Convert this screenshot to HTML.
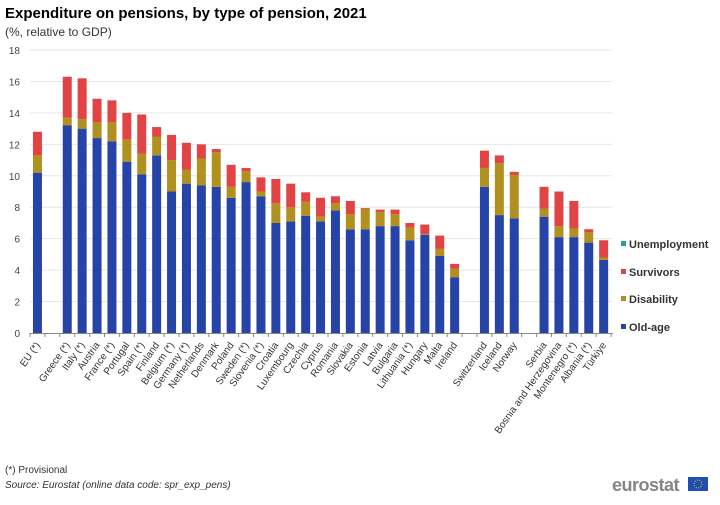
<!DOCTYPE html>
<html><head><meta charset="utf-8"><style>
body{margin:0;background:#fff;width:720px;height:500px;overflow:hidden;font-family:"Liberation Sans",Arial,sans-serif}
</style></head><body>
<svg id="c" width="720" height="500" xmlns="http://www.w3.org/2000/svg" font-family="Liberation Sans, Arial, sans-serif">
<text x="5" y="18" font-size="15" font-weight="bold" fill="#000">Expenditure on pensions, by type of pension, 2021</text>
<text x="5" y="36" font-size="12" fill="#333">(%, relative to GDP)</text>
<text x="5" y="473" font-size="10" fill="#333">(*) Provisional</text>
<text x="5" y="488" font-size="10" font-style="italic" fill="#333">Source: Eurostat (online data code: spr_exp_pens)</text>
<text x="612" y="491" font-size="18" font-weight="bold" fill="#858585" letter-spacing="-0.5">eurostat</text>
<rect x="688" y="477" width="20" height="14" fill="#1f4fb0"/>
<circle cx="698" cy="484" r="4" fill="none" stroke="#f0d020" stroke-width="1" stroke-dasharray="1 1.5"/>
<g id="legend" font-size="11" font-weight="bold" fill="#333">
<rect x="621" y="241" width="5" height="5" fill="#2aa198"/><text x="629" y="248">Unemployment</text>
<rect x="621" y="269" width="5" height="5" fill="#e04444"/><text x="629" y="276">Survivors</text>
<rect x="621" y="296" width="5" height="5" fill="#b0901e"/><text x="629" y="303">Disability</text>
<rect x="621" y="324" width="5" height="5" fill="#2644a7"/><text x="629" y="331">Old-age</text>
</g>
</svg>
<script>
var s=document.getElementById('c'),NS='http://www.w3.org/2000/svg';
function el(t,a,txt){var e=document.createElementNS(NS,t);for(var k in a)e.setAttribute(k,a[k]);if(txt)e.textContent=txt;s.insertBefore(e,document.getElementById('legend'));return e;}
var y0=333,u=15.72;
for(var v=0;v<=18;v+=2){var y=y0-v*u;if(v>0)el('line',{x1:30,x2:612,y1:y,y2:y,stroke:'#e6e6e6','stroke-width':1});el('text',{x:20,y:y+4,'font-size':10,fill:'#444','text-anchor':'end'},String(v));}
var d=[["EU (*)",0,10.2,11.3,12.8],["Greece (*)",2,13.2,13.7,16.3],["Italy (*)",3,13.0,13.6,16.2],["Austria",4,12.4,13.4,14.9],["France (*)",5,12.2,13.4,14.8],["Portugal",6,10.9,12.3,14.0],["Spain (*)",7,10.1,11.4,13.9],["Finland",8,11.3,12.5,13.1],["Belgium (*)",9,9.0,11.0,12.6],["Germany (*)",10,9.5,10.4,12.1],["Netherlands",11,9.4,11.1,12.0],["Denmark",12,9.3,11.5,11.7],["Poland",13,8.6,9.3,10.7],["Sweden (*)",14,9.6,10.3,10.5],["Slovenia (*)",15,8.7,9.0,9.9],["Croatia",16,7.0,8.25,9.8],["Luxembourg",17,7.1,8.0,9.5],["Czechia",18,7.45,8.35,8.95],["Cyprus",19,7.1,7.4,8.6],["Romania",20,7.8,8.25,8.7],["Slovakia",21,6.6,7.55,8.4],["Estonia",22,6.6,7.9,7.95],["Latvia",23,6.8,7.7,7.85],["Bulgaria",24,6.8,7.55,7.85],["Lithuania (*)",25,5.9,6.7,7.0],["Hungary",26,6.25,6.3,6.9],["Malta",27,4.9,5.35,6.2],["Ireland",28,3.55,4.1,4.4],["Switzerland",30,9.3,10.5,11.6],["Iceland",31,7.5,10.8,11.3],["Norway",32,7.3,10.05,10.25],["Serbia",34,7.4,7.9,9.3],["Bosnia and Herzegovina",35,6.1,6.8,9.0],["Montenegro (*)",36,6.1,6.65,8.4],["Albania (*)",37,5.75,6.4,6.6],["Türkiye",38,4.65,4.8,5.9]];
var st=14.9,x0=30;
el('line',{x1:30,x2:613,y1:y0+0.5,y2:y0+0.5,stroke:'#888','stroke-width':1});
for(var i=0;i<=39;i++){var tx=x0+i*st;el('line',{x1:tx,x2:tx,y1:y0,y2:y0+4,stroke:'#888','stroke-width':1});}
d.forEach(function(r){var cx=x0+r[1]*st+st/2,bx=cx-4.5,w=9;
el('rect',{x:bx,y:y0-r[2]*u,width:w,height:r[2]*u,fill:'#2644a7'});
el('rect',{x:bx,y:y0-r[3]*u,width:w,height:(r[3]-r[2])*u,fill:'#b0901e'});
el('rect',{x:bx,y:y0-r[4]*u,width:w,height:(r[4]-r[3])*u,fill:'#e04444'});
el('text',{x:cx+3,y:y0+12,'font-size':10,fill:'#333','text-anchor':'end',transform:'rotate(-55 '+(cx+3)+' '+(y0+12)+')'},r[0]);});
</script>
</body></html>
